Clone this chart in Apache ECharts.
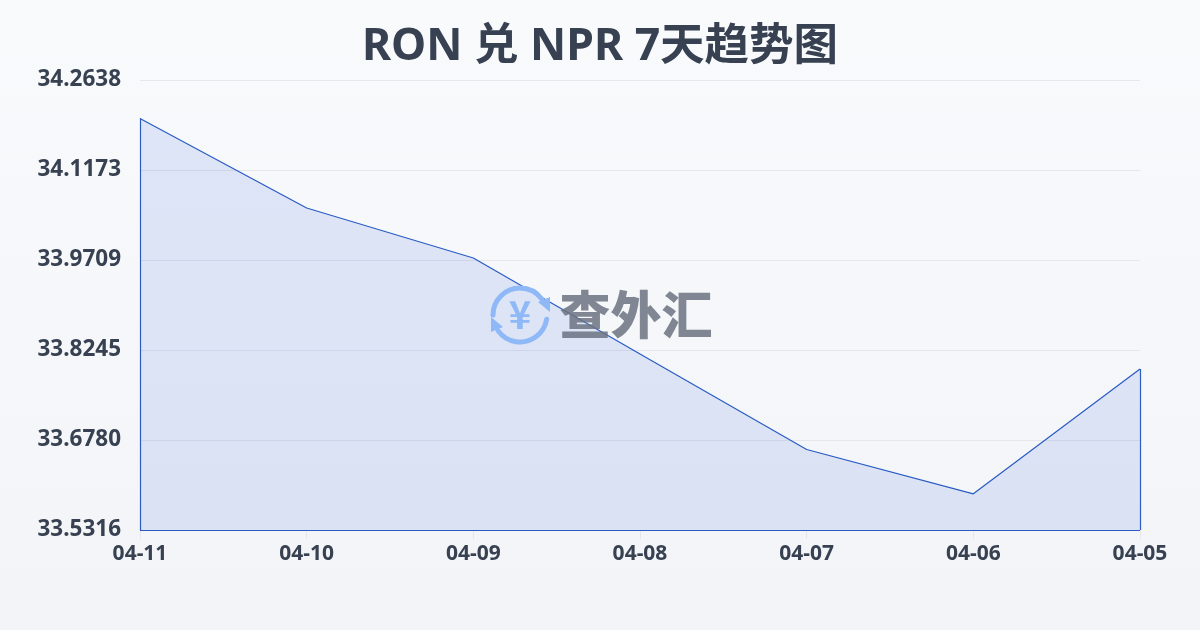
<!DOCTYPE html>
<html><head><meta charset="utf-8">
<style>html,body{margin:0;padding:0;background:#f8fafc}#c{width:1200px;height:630px}</style>
<script src="https://cdn.jsdelivr.net/npm/echarts@6/dist/echarts.min.js"></script>
</head><body><div id="c"></div>
<script>
const titleText = 'RON 兑 NPR 7天趋势图';
const categories = ['04-11','04-10','04-09','04-08','04-07','04-06','04-05'];
const rates = [34.2012,34.0555,33.9742,33.8180,33.6626,33.5905,33.7936];
const yTicks = [33.5316,33.6780,33.8245,33.9709,34.1173,34.2638];
const yMin = 33.5316, yMax = 34.2638;
const font = '"Noto Sans","Noto Sans CJK SC",sans-serif';
const ink = '#374151', lineBlue = '#2a5cc4', iconBlue = '#8fb8f7';
const chart = echarts.init(document.getElementById('c'), null, {renderer:'canvas'});
const last = categories.length - 1;
chart.setOption({
  animation:false,
  backgroundColor:new echarts.graphic.LinearGradient(0,0,0,1,[{offset:0,color:'#f8fafc'},{offset:1,color:'#f2f4f7'}]),
  title:{text:titleText,left:'center',top:12,textStyle:{fontFamily:font,fontSize:44.5,fontWeight:'bold',color:'#374151',lineHeight:60}},
  grid:{left:140,right:60,top:80,bottom:100,containLabel:false},
  xAxis:{type:'category',boundaryGap:false,data:categories,
    axisLine:{show:false},
    axisTick:{show:true,length:9,alignWithLabel:true,lineStyle:{color:'#e5e7eb'}},
    axisLabel:{margin:14,fontFamily:font,fontSize:21,fontWeight:'bold',color:ink,showMinLabel:true,showMaxLabel:true,interval:0},
    splitLine:{show:false}},
  yAxis:{type:'value',min:yMin,max:yMax,
    axisLine:{show:false},
    axisTick:{show:false,customValues:yTicks},
    axisLabel:{customValues:yTicks,margin:19,fontFamily:font,fontSize:22.5,fontWeight:'bold',color:ink,padding:[0,0,6,0],formatter:v=>v.toFixed(4)},
    splitLine:{show:true,lineStyle:{color:'#e5e7eb',width:1}}},
  series:[{type:'line',data:rates,smooth:false,showSymbol:false,symbol:'none',
    lineStyle:{color:lineBlue,width:1.2},
    areaStyle:{color:'rgba(30,85,220,0.17)',origin:'start'},
    markLine:{silent:true,symbol:'none',label:{show:false},lineStyle:{color:lineBlue,width:1.2,type:'solid'},
      data:[
        [{xAxis:categories[0],yAxis:yMin},{xAxis:categories[0],yAxis:rates[0]}],
        [{xAxis:categories[last],yAxis:yMin},{xAxis:categories[last],yAxis:rates[last]}],
        [{xAxis:categories[0],yAxis:yMin},{xAxis:categories[last],yAxis:yMin}]
      ]}
  }],
  graphic:[
    {type:'arc',z:50,shape:{cx:520,cy:315,r:27,startAngle:Math.PI,endAngle:Math.PI*1.8,clockwise:true},style:{fill:'none',stroke:iconBlue,lineWidth:5,lineCap:'round'}},
    {type:'arc',z:50,shape:{cx:520,cy:315,r:27,startAngle:Math.PI*0.05,endAngle:Math.PI*0.8,clockwise:true},style:{fill:'none',stroke:iconBlue,lineWidth:5,lineCap:'round'}},
    {type:'polygon',z:50,shape:{points:[[538,302],[550,297],[550,312]]},style:{fill:iconBlue}},
    {type:'polygon',z:50,shape:{points:[[491,317],[503,327],[491,332]]},style:{fill:iconBlue}},
    {type:'text',z:50,style:{text:'¥',x:520,y:315,align:'center',verticalAlign:'middle',font:'bold 38px "Noto Sans CJK SC"',fill:iconBlue}},
    {type:'text',z:50,style:{text:'查外汇',x:636,y:315,align:'center',verticalAlign:'middle',font:'900 51px "Noto Sans CJK SC"',fill:'rgba(107,114,128,0.85)'}}
  ]
});
</script></body></html>
